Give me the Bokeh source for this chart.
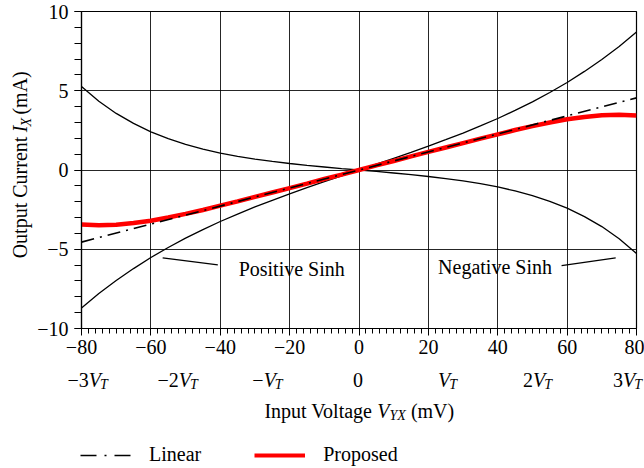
import math
from bokeh.plotting import figure
from bokeh.layouts import column, row
from bokeh.models import Range1d, FixedTicker, Legend, LegendItem
from bokeh.core.properties import value
from bokeh.embed import file_html
from bokeh.resources import INLINE

# ---------------- data ----------------
x_mv = [-80, -75, -70, -65, -60, -55, -50, -45, -40, -35, -30, -25, -20, -15, -10, -5,
        0, 5, 10, 15, 20, 25, 30, 35, 40, 45, 50, 55, 60, 65, 70, 75, 80]

positive_sinh = [-8.70, -7.79, -6.97, -6.22, -5.52, -4.89, -4.30, -3.76, -3.25, -2.78,
                 -2.33, -1.91, -1.50, -1.11, -0.74, -0.37, 0.0, 0.37, 0.74, 1.11, 1.50,
                 1.91, 2.33, 2.78, 3.25, 3.76, 4.30, 4.89, 5.52, 6.22, 6.97, 7.79, 8.70]

negative_sinh = [5.27, 4.34, 3.57, 2.94, 2.41, 1.98, 1.62, 1.32, 1.07, 0.86, 0.69, 0.54,
                 0.41, 0.29, 0.19, 0.09, 0.0, -0.09, -0.19, -0.29, -0.41, -0.54, -0.69,
                 -0.86, -1.07, -1.32, -1.62, -1.98, -2.41, -2.94, -3.57, -4.34, -5.27]

proposed = [-3.44, -3.48, -3.45, -3.35, -3.20, -3.00, -2.77, -2.52, -2.25, -1.98, -1.70,
            -1.42, -1.14, -0.86, -0.57, -0.29, 0.0, 0.29, 0.57, 0.86, 1.14, 1.42, 1.70,
            1.98, 2.25, 2.52, 2.77, 3.00, 3.20, 3.35, 3.45, 3.48, 3.44]

linear_x = [-80, 80]
linear_y = [-4.55, 4.55]

x_ticks = [-80, -60, -40, -20, 0, 20, 40, 60, 80]
x_minor = [-80 + 2 * i for i in range(81)]
y_ticks = [-10, -5, 0, 5, 10]
y_minor = [-10 + i for i in range(21)]
x_grid = [-60, -40, -20, 0, 20, 40, 60]
y_grid = [-5, 0, 5]

V_T = 25.85
vt_multiples = [-3, -2, -1, 0, 1, 2, 3]
vt_prefix = ["\u22123", "\u22122", "\u2212", "0", "", "2", "3"]

pos_label = "Positive Sinh"
neg_label = "Negative Sinh"
pos_text_at = (-34.7, -6.25)
neg_text_at = (22.8, -6.12)
pos_leader_x = [-56.6, -40.7]
pos_leader_y = [-5.54, -5.98]
neg_leader_x = [58.4, 74.0]
neg_leader_y = [-6.03, -5.54]

legend_labels = ["Linear", "Proposed"]

# ---------------- geometry ----------------
W, H = 644, 468
LEFT_W = 34                        # strip for the y title
FL, FR, FT, FB = 79, 636, 11, 328  # frame edges in page pixels
MAIN_H = 362                       # main figure height
BOT_H = H - MAIN_H                 # bottom strip height
XMIN, XMAX, YMIN, YMAX = -80, 80, -10, 10
FONT = "Liberation Serif"
DESC = 0.216                       # font descent (em)


def xp(v):
    return FL + (v - XMIN) * (FR - FL) / (XMAX - XMIN)


REG = {" ": 250, "(": 333, ")": 333, "\u2212": 564, "0": 500, "1": 500, "2": 500, "3": 500,
       "A": 722, "C": 667, "I": 333, "O": 722, "S": 556, "V": 722, "P": 556, "N": 722,
       "a": 444, "e": 444, "g": 500, "h": 500, "i": 278, "l": 278, "m": 778, "n": 500,
       "o": 500, "p": 500, "r": 333, "s": 389, "t": 278, "u": 500, "v": 500, "d": 500}
ITA = {"I": 333, "V": 611, "X": 611, "Y": 556, "T": 556}


def tw(text, size, italic=False):
    table = ITA if italic else REG
    return sum(table.get(c, 500) for c in text) * size / 1000.0


def put_text(fig, top, h, x_px, y_px, text, size=20, italic=False, align="left"):
    fig.text(x=[x_px], y=[h - (y_px - top)], text=[text],
             text_font=value(FONT), text_font_size=value(f"{size}px"),
             text_font_style="italic" if italic else "normal",
             text_color="black", text_align=align, text_baseline="alphabetic")


def put_vtext(fig, top, h, base_x, y_px, text, size=20, italic=False, align="left"):
    # rotated (reads bottom to top); anchor at text bottom = baseline + descent
    fig.text(x=[base_x + DESC * size], y=[h - (y_px - top)], text=[text],
             text_font=value(FONT), text_font_size=value(f"{size}px"),
             text_font_style="italic" if italic else "normal",
             text_color="black", text_align=align, text_baseline="bottom",
             angle=math.pi / 2)


def blank_fig(w, h):
    f = figure(width=w, height=h, x_range=Range1d(0, w), y_range=Range1d(0, h),
               x_axis_type=None, y_axis_type=None, output_backend="svg",
               toolbar_location=None, min_border=0)
    f.outline_line_color = None
    f.background_fill_color = "white"
    f.border_fill_color = "white"
    return f


# ---------------- main plot ----------------
p = figure(width=W - LEFT_W, height=MAIN_H, x_range=Range1d(XMIN, XMAX),
           y_range=Range1d(YMIN, YMAX), output_backend="svg", toolbar_location=None,
           min_border_left=FL - LEFT_W, min_border_right=W - FR, min_border_top=FT,
           min_border_bottom=MAIN_H - FB)
p.background_fill_color = "white"
p.border_fill_color = "white"
p.outline_line_color = "black"
p.outline_line_width = 1.2

for ax in (p.xaxis[0], p.yaxis[0]):
    ax.axis_line_color = "black"
    ax.axis_line_width = 1.2
    ax.major_tick_line_color = "black"
    ax.minor_tick_line_color = "black"
    ax.major_tick_in = 0
    ax.minor_tick_in = 0
    ax.major_tick_out = 7
    ax.major_label_text_font = FONT
    ax.major_label_text_font_size = "20px"
    ax.major_label_text_color = "black"

p.xaxis.ticker = FixedTicker(ticks=x_ticks, minor_ticks=x_minor)
p.yaxis.ticker = FixedTicker(ticks=y_ticks, minor_ticks=y_minor)
p.xaxis.minor_tick_out = 5
p.yaxis.minor_tick_out = 7
p.xaxis.major_label_standoff = 4
p.yaxis.major_label_standoff = 6
p.xaxis.major_label_overrides = {t: str(t).replace("-", "\u2212") for t in x_ticks}
p.yaxis.major_label_overrides = {t: str(t).replace("-", "\u2212") for t in y_ticks}

p.xgrid.ticker = FixedTicker(ticks=x_grid)
p.ygrid.ticker = FixedTicker(ticks=y_grid)
for g in (p.xgrid[0], p.ygrid[0]):
    g.grid_line_color = "black"
    g.grid_line_width = 1
    g.grid_line_alpha = 0.85

p.line(x_mv, positive_sinh, line_color="black", line_width=1.3)
p.line(x_mv, negative_sinh, line_color="black", line_width=1.3)
p.line(x_mv, proposed, line_color="#ff0000", line_width=4.5)
p.line(linear_x, linear_y, line_color="black", line_width=1.6, line_dash="13 6 2 6")

p.line(pos_leader_x, pos_leader_y, line_color="black", line_width=1.3)
p.line(neg_leader_x, neg_leader_y, line_color="black", line_width=1.3)

p.text(x=[pos_text_at[0], neg_text_at[0]], y=[pos_text_at[1], neg_text_at[1]],
       text=[pos_label, neg_label], text_font=value(FONT), text_font_size=value("20px"),
       text_color="black", text_align="left", text_baseline="alphabetic")

# ---------------- left strip: y title "Output Current I_X (mA)" ----------------
left = blank_fig(LEFT_W, MAIN_H)
Y_BASE = 26
SP = tw(" ", 20)
w_head = tw("Output Current", 20)
w_i = tw("I", 20, True)
w_x = tw("X", 14, True)
w_tail = tw("(mA)", 20)
total = w_head + SP + w_i + w_x + SP + w_tail
start = (FT + FB) / 2 + total / 2          # bottom end of the title (page y)
i_pos = start - w_head - SP                # where the italic I begins
put_vtext(left, 0, MAIN_H, Y_BASE, i_pos + SP, "Output Current", align="right")
put_vtext(left, 0, MAIN_H, Y_BASE, i_pos, "I", italic=True)
put_vtext(left, 0, MAIN_H, Y_BASE + 4, i_pos - w_i, "X", size=14, italic=True)
put_vtext(left, 0, MAIN_H, Y_BASE, i_pos - w_i - w_x - SP, "(mA)")

# ---------------- bottom strip: V_T row, x title, legend ----------------
bot = blank_fig(W, BOT_H)
VT_BASE = 379
for k, pre in zip(vt_multiples, vt_prefix):
    cx = xp(k * V_T)
    if k == 0:
        put_text(bot, MAIN_H, BOT_H, cx, VT_BASE, pre, align="center")
        continue
    w_pre = tw(pre, 20)
    w_v = tw("V", 20, True)
    w_t = tw("T", 14, True)
    x0 = cx - (w_pre + w_v + w_t) / 2
    if pre:
        put_text(bot, MAIN_H, BOT_H, x0 + w_pre, VT_BASE, pre, align="right")
    put_text(bot, MAIN_H, BOT_H, x0 + w_pre, VT_BASE, "V", italic=True)
    put_text(bot, MAIN_H, BOT_H, x0 + w_pre + w_v - 1, VT_BASE + 5, "T", size=14, italic=True)

# x title "Input Voltage V_YX (mV)"
T_BASE = 410
w_head = tw("Input Voltage", 20)
w_v = tw("V", 20, True)
w_sub = tw("YX", 14, True)
w_tail = tw("(mV)", 20)
total = w_head + SP + w_v + w_sub + SP + w_tail
v_pos = (FL + FR) / 2 - total / 2 + w_head + SP
put_text(bot, MAIN_H, BOT_H, v_pos - SP, T_BASE, "Input Voltage", align="right")
put_text(bot, MAIN_H, BOT_H, v_pos, T_BASE, "V", italic=True)
put_text(bot, MAIN_H, BOT_H, v_pos + w_v, T_BASE + 5, "YX", size=14, italic=True)
put_text(bot, MAIN_H, BOT_H, v_pos + w_v + w_sub + SP, T_BASE, "(mV)")

# legend (its renderers hold points outside the strip's range, so only the
# legend swatches are visible)
leg_lin = bot.line([-20, -10], [-20, -20], line_color="black", line_width=1.6,
                   line_dash="16 8 2 8")
leg_red = bot.line([-20, -10], [-20, -20], line_color="#ff0000", line_width=4)
legend = Legend(items=[LegendItem(label=legend_labels[0], renderers=[leg_lin]),
                       LegendItem(label=legend_labels[1], renderers=[leg_red])],
                location=(80, 2), orientation="horizontal",
                glyph_width=51, glyph_height=20, label_standoff=18, spacing=53,
                padding=0, margin=0, border_line_alpha=0, background_fill_alpha=0,
                label_text_font=FONT, label_text_font_size="20px",
                label_text_color="black")
bot.add_layout(legend)

layout = column(row(left, p, spacing=0), bot, spacing=0)
open("out.html", "w").write(file_html(layout, INLINE))
